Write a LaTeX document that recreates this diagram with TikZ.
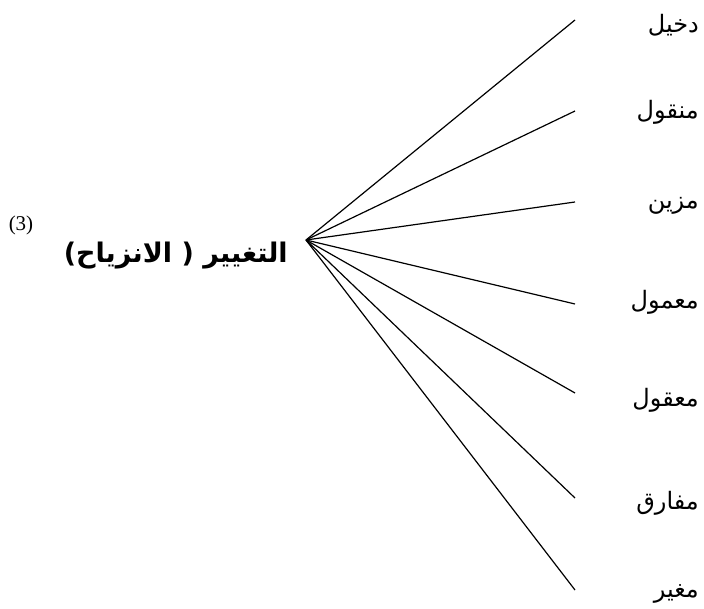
\documentclass[tikz,border=0pt]{standalone}
\usepackage{fontspec}
\setmainfont{Liberation Serif}
\newfontfamily\arabicfont[Script=Arabic]{DejaVu Sans}
\TeXXeTstate=1
\tikzset{
  branch/.style={line width=1.2pt, black},
  lbl/.style={anchor=east, inner sep=0pt, font=\arabicfont\fontsize{24}{28}\selectfont},
  mainlbl/.style={anchor=east, inner sep=0pt, font=\arabicfont\bfseries\fontsize{27}{32}\selectfont},
  numlbl/.style={inner sep=0pt, font=\fontsize{21}{24}\selectfont}
}
\begin{document}
\begin{tikzpicture}[x=1pt,y=-1pt]
\useasboundingbox (0,0) rectangle (704,609);
\node[numlbl] (num) at (21,225) {(3)};
\node[mainlbl] (title) at (288,256) {\beginR التغيير ( الانزياح)\endR};
\coordinate (hub) at (306,240);
\coordinate (e1) at (575,20);
\coordinate (e2) at (575,111);
\coordinate (e3) at (575,202);
\coordinate (e4) at (575,304);
\coordinate (e5) at (575,393);
\coordinate (e6) at (575,498);
\coordinate (e7) at (575,590);
\node[lbl] (l1) at (699,25) {\beginR دخيل\endR};
\node[lbl] (l2) at (699,112) {\beginR منقول\endR};
\node[lbl] (l3) at (699,206) {\beginR مزين\endR};
\node[lbl] (l4) at (699,302) {\beginR معمول\endR};
\node[lbl] (l5) at (699,400) {\beginR معقول\endR};
\node[lbl] (l6) at (699,503) {\beginR مفارق\endR};
\node[lbl] (l7) at (699,594) {\beginR مغير\endR};
\foreach \i in {1,...,7} {\draw[branch] (hub) -- (e\i);}
\end{tikzpicture}
\end{document}
